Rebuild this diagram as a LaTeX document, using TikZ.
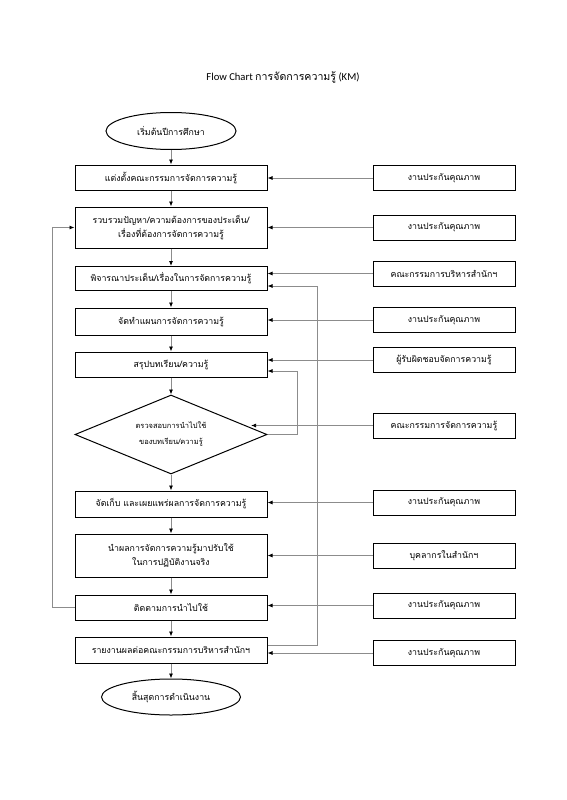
\documentclass[tikz,border=0pt]{standalone}
\usepackage{fontspec}
\setmainfont{Carlito}
\newfontfamily\thai[Script=Thai]{Loma}
\usetikzlibrary{arrows.meta,shapes.geometric,calc}
\definecolor{linegray}{RGB}{140,140,140}
\begin{document}
\begin{tikzpicture}[x=1pt,y=-1pt,
  mainbox/.style={draw=black,line width=1pt,minimum width=192pt,inner sep=1pt,align=center,font=\thai\fontsize{8.8}{14}\selectfont},
  sidebox/.style={draw=black,line width=1pt,minimum width=142pt,minimum height=25pt,inner sep=1pt,align=center,font=\thai\fontsize{8.8}{14}\selectfont},
  term/.style={draw=black,line width=1pt,ellipse,inner sep=0pt,font=\thai\fontsize{8.8}{14}\selectfont},
  arr/.style={draw=linegray,line width=0.8pt,-{Latex[length=5pt,width=4pt,color=black]}},
  ln/.style={draw=linegray,line width=0.8pt}]
\useasboundingbox (0,0) rectangle (566,800);
\fill[white] (0,0) rectangle (566,800);
\node (title) at (283,77) {\fontsize{10.6}{12}\selectfont Flow Chart {\thai การจัดการความรู้} (KM)};
% main column
\node[term,minimum width=130pt,minimum height=37pt] (start) at (171,131) {เริ่มต้นปีการศึกษา};
\node[mainbox,minimum height=25pt] (b1) at (171,177.5) {แต่งตั้งคณะกรรมการจัดการความรู้};
\node[mainbox,minimum height=41pt] (b2) at (171,227.5) {รวบรวมปัญหา/ความต้องการของประเด็น/\\เรื่องที่ต้องการจัดการความรู้};
\node[mainbox,minimum height=24pt] (b3) at (171,278.5) {พิจารณาประเด็น/เรื่องในการจัดการความรู้};
\node[mainbox,minimum height=27pt] (b4) at (171,321.5) {จัดทำแผนการจัดการความรู้};
\node[mainbox,minimum height=25pt] (b5) at (171,364.5) {สรุปบทเรียน/ความรู้};
\node[draw=black,line width=1pt,diamond,aspect=2.43,minimum width=192pt,minimum height=79pt,inner sep=0pt,align=center,font=\thai\fontsize{7.5}{16}\selectfont] (dia) at (171,434.5) {ตรวจสอบการนำไปใช้\\ของบทเรียน/ความรู้};
\node[mainbox,minimum height=26pt] (b6) at (171,504) {จัดเก็บ และเผยแพร่ผลการจัดการความรู้};
\node[mainbox,minimum height=43pt] (b7) at (171,555.5) {นำผลการจัดการความรู้มาปรับใช้\\ในการปฏิบัติงานจริง};
\node[mainbox,minimum height=25pt] (b8) at (171,607.5) {ติดตามการนำไปใช้};
\node[mainbox,minimum height=26pt] (b9) at (171,650) {รายงานผลต่อคณะกรรมการบริหารสำนักฯ};
\node[term,minimum width=139pt,minimum height=36pt] (end) at (171,697) {สิ้นสุดการดำเนินงาน};
% side column
\node[sidebox] (r1) at (444,178) {งานประกันคุณภาพ};
\node[sidebox] (r2) at (444,227.5) {งานประกันคุณภาพ};
\node[sidebox] (r3) at (444,273.5) {คณะกรรมการบริหารสำนักฯ};
\node[sidebox] (r4) at (444,320) {งานประกันคุณภาพ};
\node[sidebox] (r5) at (444,360) {ผู้รับผิดชอบจัดการความรู้};
\node[sidebox] (r6) at (444,425.5) {คณะกรรมการจัดการความรู้};
\node[sidebox] (r7) at (444,502.5) {งานประกันคุณภาพ};
\node[sidebox] (r8) at (444,555.5) {บุคลากรในสำนักฯ};
\node[sidebox] (r9) at (444,605.5) {งานประกันคุณภาพ};
\node[sidebox] (r10) at (444,653) {งานประกันคุณภาพ};
% main flow
\draw[arr] (start) -- (b1);
\draw[arr] (b1) -- (b2);
\draw[arr] (b2) -- (b3);
\draw[arr] (b3) -- (b4);
\draw[arr] (b4) -- (b5);
\draw[arr] (b5) -- (dia);
\draw[arr] (dia) -- (b6);
\draw[arr] (b6) -- (b7);
\draw[arr] (b7) -- (b8);
\draw[arr] (b8) -- (b9);
\draw[arr] (b9) -- (end);
% side inputs
\draw[arr] (r1.west) -- (r1.west -| b1.east);
\draw[arr] (r2.west) -- (r2.west -| b2.east);
\draw[arr] (r3.west) -- (r3.west -| b3.east);
\draw[arr] (r4.west) -- (r4.west -| b4.east);
\draw[arr] (r5.west) -- (r5.west -| b5.east);
\coordinate (dhit) at ($(dia.north)!0.83!(dia.east)$);
\draw[arr] (r6.west) -- (r6.west -| dhit);
\draw[arr] (r7.west) -- (r7.west -| b6.east);
\draw[arr] (r8.west) -- (r8.west -| b7.east);
\draw[arr] (r9.west) -- (r9.west -| b8.east);
\draw[arr] (r10.west) -- (r10.west -| b9.east);
% loops
\draw[arr] (b8.west) -- ++(-22,0) |- (b2.west);
\draw[arr] ([yshift=5pt]b9.east) -- ++(50,0) |- ([yshift=-7.5pt]b3.east);
\draw[arr] (dia.east) -- ++(30,0) |- ([yshift=-6.5pt]b5.east);
\end{tikzpicture}
\end{document}
